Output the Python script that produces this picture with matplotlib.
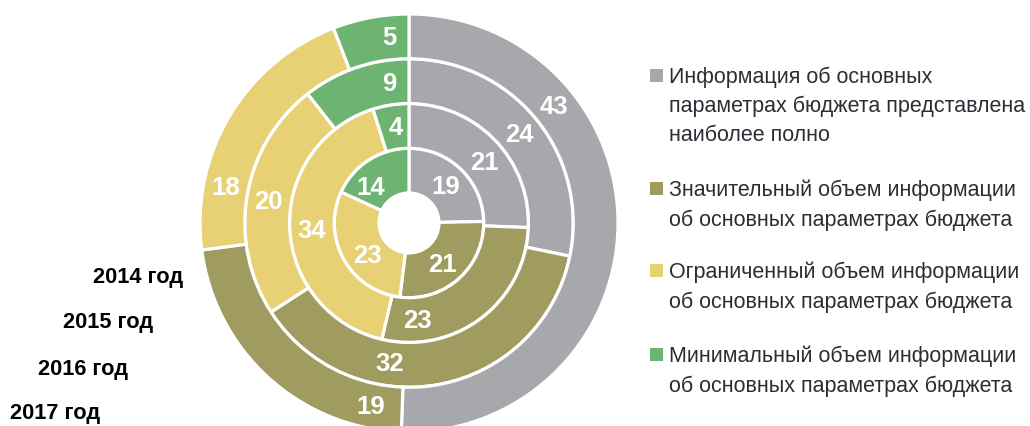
import numpy as np
import matplotlib.pyplot as plt
from matplotlib.patches import Rectangle

plt.rcParams['font.family'] = ['Liberation Sans', 'DejaVu Sans']

years = ['2014 год', '2015 год', '2016 год', '2017 год']
categories = [
    'Информация об основных\nпараметрах бюджета представлена\nнаиболее полно',
    'Значительный объем информации\nоб основных параметрах бюджета',
    'Ограниченный объем информации\nоб основных параметрах бюджета',
    'Минимальный объем информации\nоб основных параметрах бюджета',
]
# values per year (inner ring = 2014 ... outer ring = 2017)
full = [19, 21, 24, 43]
significant = [21, 23, 32, 19]
limited = [23, 34, 20, 18]
minimal = [14, 4, 9, 5]
colors = ['#a7a8ab', '#a09b5f', '#e8d175', '#6db472']

# where the numbers sit on each ring, degrees clockwise from 12 o'clock
label_angles = [[45, 141, 232, 313],
                [51, 175, 266, 352],
                [51, 188, 279, 352],
                [51, 192, 281, 354]]

fig = plt.figure(figsize=(10.3, 4.27), dpi=100)
ax = fig.add_axes([0, 0, 1, 1])

cx, cy = 409, 427 - 224
hole = 30
width = 44.75

for i in range(len(years)):
    vals = [full[i], significant[i], limited[i], minimal[i]]
    r_out = hole + width * (i + 1)
    ax.pie(vals, radius=r_out, center=(cx, cy), startangle=90, counterclock=False,
           colors=colors, wedgeprops=dict(width=width, edgecolor='white', linewidth=2.3))
    r_mid = r_out - width / 2
    for v, a in zip(vals, label_angles[i]):
        t = np.radians(a)
        ax.text(cx + r_mid * np.sin(t), cy + r_mid * np.cos(t), str(v), color='white',
                fontsize=18.5, fontweight='bold', ha='center', va='center')

# year captions
year_x = [183, 153, 128, 100]
year_y = [277, 323, 370, 414]
for name, x, y in zip(years, year_x, year_y):
    ax.text(x, 427 - y, name, fontsize=15.7, fontweight='bold', color='black',
            ha='right', va='center')

# legend
item_y = [76, 189, 271, 355]
line_h = 28.5
for name, col, y in zip(categories, colors, item_y):
    ax.add_patch(Rectangle((650, 427 - y - 6.5), 13, 13, color=col, lw=0))
    n = name.count('\n') + 1
    yc = y + 2 + (n - 1) * line_h / 2
    ax.text(669, 427 - yc, name, fontsize=15.5, color='#2b2e34', ha='left', va='center',
            linespacing=1.48)

ax.set_xlim(0, 1030)
ax.set_ylim(0, 427)
ax.set_aspect('equal')
ax.axis('off')

plt.savefig('out.png', dpi=100)
